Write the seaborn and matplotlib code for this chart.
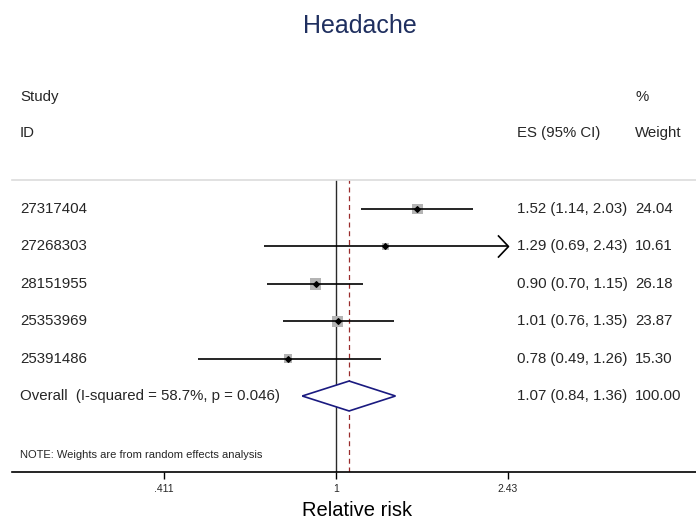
import numpy as np
import pandas as pd
import matplotlib
matplotlib.use("Agg")
import matplotlib.pyplot as plt
import matplotlib.transforms as mtransforms
from matplotlib.patches import Polygon
from matplotlib.path import Path
import seaborn as sns

# Study data (relative risk with 95% CI, random-effects weights)
study_ids = ["27317404", "27268303", "28151955", "25353969", "25391486"]
es = [1.52, 1.29, 0.90, 1.01, 0.78]
ci_low = [1.14, 0.69, 0.70, 0.76, 0.49]
ci_high = [2.03, 2.43, 1.15, 1.35, 1.26]
weights = [24.04, 10.61, 26.18, 23.87, 15.30]

# Pooled estimate
overall_es = 1.07
overall_low = 0.84
overall_high = 1.36
i_squared = 58.7
p_het = 0.046

tick_values = [0.411, 1, 2.43]
tick_labels = [".411", "1", "2.43"]

sns.set_style("white")
plt.rcParams["font.family"] = ["Liberation Sans", "DejaVu Sans"]

W, H = 696, 524
fig = plt.figure(figsize=(W / 100, H / 100), dpi=100)
fig.patch.set_facecolor("white")

ax_left, ax_right, ax_top, ax_bottom = 12, 696, 180, 472
ax = fig.add_axes([ax_left / W, (H - ax_bottom) / H,
                   (ax_right - ax_left) / W, (ax_bottom - ax_top) / H])

# log scale centred on the null value
px_per_log = 193.5
x_null_px = 336
ax.set_xscale("log")
ax.set_xlim(np.exp((ax_left - x_null_px) / px_per_log),
            np.exp((ax_right - x_null_px) / px_per_log))
row_gap = 37.4
first_row_px = 209
ax.set_ylim(-(ax_bottom - first_row_px) / row_gap, (first_row_px - ax_top) / row_gap)

n = len(study_ids)
pos = [-i for i in range(n)]
overall_pos = -n
xmax = max(tick_values)

df = pd.DataFrame({"study": study_ids, "es": es, "lo": ci_low, "hi": ci_high,
                   "weight": weights, "pos": pos})

# weight boxes (area proportional to weight)
k = 2.6
sns.scatterplot(data=df, x="es", y="pos", size="weight",
                sizes=(k * min(weights), k * max(weights)),
                marker="s", color="#b4b4b4", edgecolor="none",
                legend=False, ax=ax, zorder=2)

# open chevron used where an interval runs past the axis limit
chevron = Path([(-0.95, 1.0), (0.0, 0.0), (-0.95, -1.0)],
               [Path.MOVETO, Path.LINETO, Path.LINETO])

for lo, hi, y in zip(ci_low, ci_high, pos):
    right = min(hi, xmax)
    ax.plot([lo, right], [y, y], color="black", lw=1.2, zorder=3,
            solid_capstyle="butt")
    if hi >= xmax:
        ax.plot([xmax], [y], marker=chevron, ms=16, mfc="none", mec="black",
                mew=1.2, zorder=3, clip_on=False)

# point estimates
ax.scatter(es, pos, marker="D", s=8, color="black", zorder=4)

# null line and pooled-estimate line
ax.axvline(1, color="#2a2a2a", lw=1.0, zorder=1)
ax.axvline(overall_es, color="#9a2c2c", lw=0.9, ls=(0, (4, 3)), zorder=1)

# pooled diamond
dh = 0.4
diamond = Polygon([[overall_low, overall_pos], [overall_es, overall_pos + dh],
                   [overall_high, overall_pos], [overall_es, overall_pos - dh]],
                  closed=True, facecolor="white", edgecolor="#1a1a80", lw=1.2, zorder=5)
ax.add_patch(diamond)

# axes styling
for side in ["left", "right"]:
    ax.spines[side].set_visible(False)
ax.spines["top"].set_color("#dcdcdc")
ax.spines["top"].set_linewidth(1.2)
ax.spines["bottom"].set_color("black")
ax.spines["bottom"].set_linewidth(1.2)
ax.set_yticks([])
ax.set_ylabel("")
ax.set_xlabel("")
ax.set_xticks(tick_values)
ax.set_xticklabels(tick_labels)
ax.xaxis.set_minor_locator(matplotlib.ticker.NullLocator())
ax.tick_params(axis="x", direction="out", length=5, width=1, color="black",
               labelsize=7.5, pad=4, bottom=True)

# text columns
trans = mtransforms.blended_transform_factory(fig.transFigure, ax.transData)
col_id = 20 / W
col_es = 517 / W
col_w = 635 / W
fs = 10.8
for sid, e, lo, hi, w, y in zip(study_ids, es, ci_low, ci_high, weights, pos):
    ax.text(col_id, y, sid, transform=trans, fontsize=fs, va="center", ha="left")
    ax.text(col_es, y, f"{e:.2f} ({lo:.2f}, {hi:.2f})", transform=trans,
            fontsize=fs, va="center", ha="left")
    ax.text(col_w, y, f"{w:.2f}", transform=trans, fontsize=fs, va="center", ha="left")

ax.text(col_id, overall_pos,
        f"Overall  (I-squared = {i_squared:.1f}%, p = {p_het:.3f})",
        transform=trans, fontsize=fs, va="center", ha="left")
ax.text(col_es, overall_pos,
        f"{overall_es:.2f} ({overall_low:.2f}, {overall_high:.2f})",
        transform=trans, fontsize=fs, va="center", ha="left")
ax.text(col_w, overall_pos, f"{sum(weights):.2f}", transform=trans,
        fontsize=fs, va="center", ha="left")

def fy(py):
    return 1 - py / H

fig.text(col_id, fy(97), "Study", fontsize=fs, va="center", ha="left")
fig.text(col_id, fy(133), "ID", fontsize=fs, va="center", ha="left")
fig.text(col_w, fy(97), "%", fontsize=fs, va="center", ha="left")
fig.text(col_es, fy(133), "ES (95% CI)", fontsize=fs, va="center", ha="left")
fig.text(col_w, fy(133), "Weight", fontsize=fs, va="center", ha="left")

fig.text(col_id, fy(455), "NOTE: Weights are from random effects analysis",
         fontsize=8, va="center", ha="left")

fig.text(360 / W, fy(26), "Headache", fontsize=18, color="#1f2f5f",
         va="center", ha="center")
fig.text(357 / W, fy(510), "Relative risk", fontsize=14.5, color="black",
         va="center", ha="center")

fig.savefig("out.png", dpi=100, facecolor="white")
